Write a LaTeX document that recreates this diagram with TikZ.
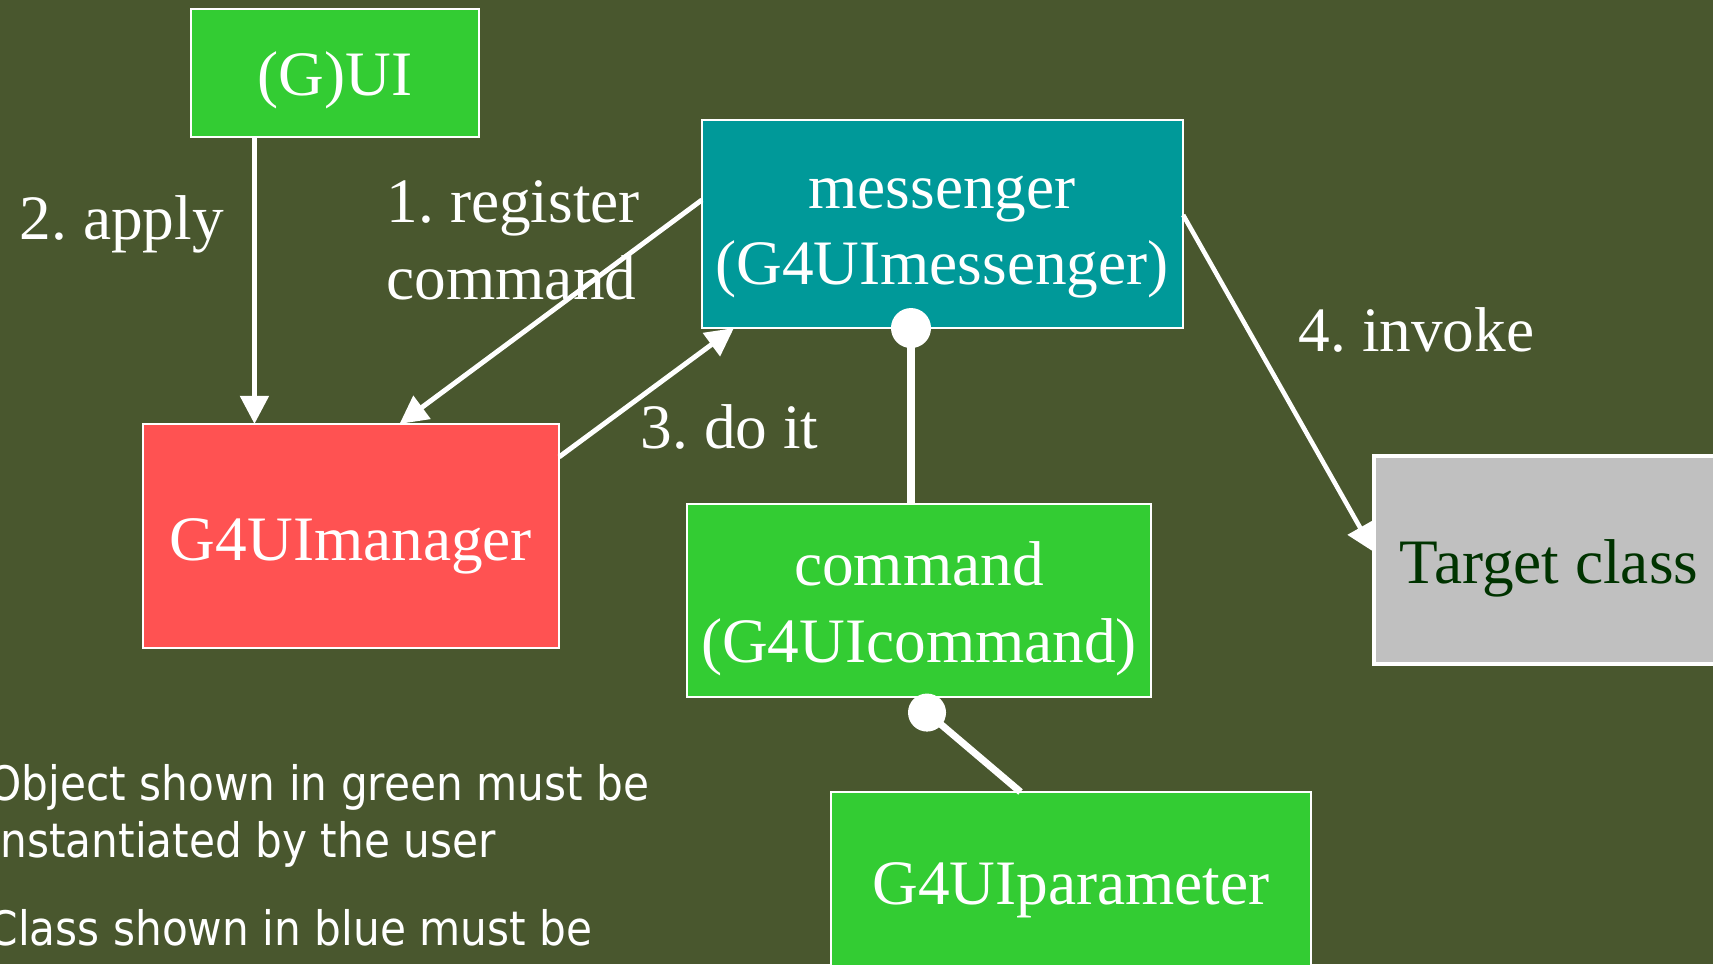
\documentclass[tikz,border=0pt]{standalone}
\usepackage{fontspec}
\usepackage{graphicx}
\setmainfont{Liberation Serif}
\newfontfamily\notefont{DejaVu Sans}
\usetikzlibrary{arrows.meta}
\frenchspacing

\definecolor{bgolive}{RGB}{73,87,46}
\definecolor{usergreen}{RGB}{51,204,51}
\definecolor{msgteal}{RGB}{0,153,153}
\definecolor{mgrred}{RGB}{255,82,82}
\definecolor{tgtgray}{RGB}{192,192,192}
\definecolor{tgttext}{RGB}{0,51,0}

\begin{document}
\frenchspacing
\begin{tikzpicture}[x=0.01cm, y=-0.01cm,
  box/.style={draw=white, line width=0.6pt, inner sep=0pt, outer sep=0pt},
  boxtext/.style={text=white, font=\fontsize{18}{21.5}\selectfont, inner sep=0pt, anchor=base},
  lbl/.style={text=white, font=\fontsize{18}{21.5}\selectfont, inner sep=0pt, anchor=base west},
  note/.style={text=white, font=\notefont\fontsize{13.5}{16}\selectfont, inner sep=0pt, anchor=base west},
  flow/.style={draw=white, line width=1.4pt, -{Triangle[length=0.28cm, width=0.28cm]}},
  link/.style={draw=white, line width=2pt},
  dot/.style={circle, fill=white, inner sep=0pt, minimum size=0.4cm},
]
\useasboundingbox (0,0) rectangle (1713,964);
\clip (0,0) rectangle (1713,964);
\fill[bgolive] (0,0) rectangle (1713,964);

% boxes
\node[box, fill=usergreen, minimum width=2.88cm, minimum height=1.28cm] (gui) at (335,73) {};
\node[box, fill=mgrred, minimum width=4.16cm, minimum height=2.24cm] (mgr) at (351,536) {};
\node[box, fill=msgteal, minimum width=4.81cm, minimum height=2.08cm] (msg) at (942.5,224) {};
\node[box, fill=usergreen, minimum width=4.64cm, minimum height=1.93cm] (cmd) at (919,600.5) {};
\node[box, fill=usergreen, minimum width=4.80cm, minimum height=2.00cm] (par) at (1071,892) {};
\node[box, fill=tgtgray, line width=1pt, minimum width=3.60cm, minimum height=2.08cm] (tgt) at (1554,560) {};

% box texts
\node[boxtext] (guitxt) at (335,96) {(G)UI};
\node[boxtext] (mgrtxt) at (351,560) {G4UImanager};
\node[boxtext] (msgtxta) at (942,209) {messenger};
\node[boxtext] (msgtxtb) at (942,285) {(G4UImessenger)};
\node[boxtext] (cmdtxta) at (919,585) {command};
\node[boxtext] (cmdtxtb) at (919,662) {(G4UIcommand)};
\node[boxtext] (partxt) at (1071,904) {G4UIparameter};
\node[boxtext, anchor=base west, text=tgttext] (tgttxt) at (1399,583) {Target class};

% connectors
\draw[flow] ([xshift=-0.805cm]gui.south) -- ([xshift=-0.805cm]gui.south |- mgr.north);
\draw[flow] ([yshift=0.24cm]msg.west) -- ([xshift=0.485cm]mgr.north);
\draw[flow] ([yshift=0.79cm]mgr.east) -- ([xshift=-2.085cm]msg.south);
\draw[flow, line width=1.3pt] ([yshift=0.09cm]msg.east) -- ([yshift=0.08cm]tgt.west);

\node[dot] (dota) at ([xshift=-0.315cm]msg.south) {};
\draw[link] (dota.center) -- (dota.center |- cmd.north);
\node[dot, minimum size=0.38cm] (dotb) at ([xshift=0.08cm, yshift=-0.155cm]cmd.south) {};
\draw[link] (dotb.center) -- ([xshift=-0.505cm]par.north);

% connector labels
\node[lbl] (applylbl) at (19,240) {2. apply};
\node[lbl] (reglbla) at (386,223) {1. register};
\node[lbl] (reglblb) at (386,300) {command};
\node[lbl] (dolbl) at (640,448) {3. do it};
\node[lbl] (invlbl) at (1298,352) {4. invoke};

% notes, running off the left edge of the sheet
\node[note] (notea) at (-12,800) {\scalebox{0.89}[1]{Object shown in green must be}};
\node[note] (noteb) at (-12,857) {\scalebox{0.89}[1]{instantiated by the user}};
\node[note] (notec) at (-12,945) {\scalebox{0.89}[1]{Class shown in blue must be}};
\end{tikzpicture}
\end{document}
